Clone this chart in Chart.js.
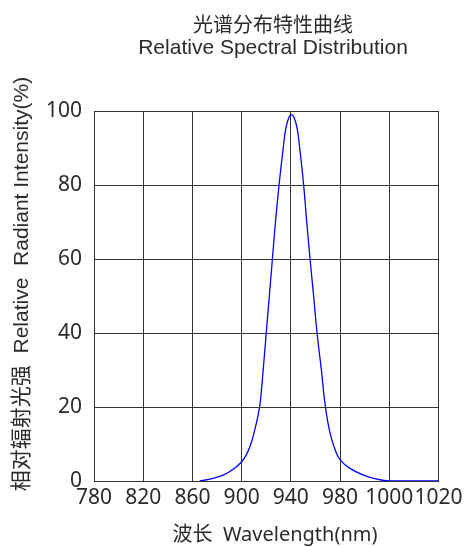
<html>
<head>
<meta charset="utf-8">
<script src="https://cdn.jsdelivr.net/npm/chart.js@4.4.1/dist/chart.umd.min.js"></script>
<style>
  body { margin: 0; background: #fff; }
  #wrap { width: 472px; height: 547px; }
</style>
</head>
<body>
<div id="wrap"><canvas id="chart"></canvas></div>
<script>
// values
var wavelength = [866, 875, 885, 894, 900, 904, 907.5, 910.5, 913, 915, 917.5, 920, 922.5, 925, 927.5, 930.4, 933.8, 936, 938.5, 940.5,
                  942.5, 945, 947.2, 950.4, 952.9, 955.6, 958.5, 961.3, 964.8, 967.5, 970, 973, 976.5, 980, 988, 999, 1010, 1020, 1060];
var intensity  = [0, 0.6, 1.6, 3.4, 5.2, 7.2, 10, 13.6, 17.2, 21, 30, 40, 50, 60, 70, 80, 90, 95.5, 98.3, 99,
                  98.3, 95.5, 90, 80, 70, 60, 50, 40, 30, 21.5, 16, 11.5, 8, 5.7, 3.4, 1.6, 0.5, 0, 0];
// tick labels as printed (grid is evenly spaced)
var xTickLabels = ['780', '820', '860', '900', '940', '980', '1000', '1020'];
var yTicks = [0, 20, 40, 60, 80, 100];

var titleLines = ['光谱分布特性曲线', 'Relative Spectral Distribution'];
var xTitle = '波长  Wavelength(nm)';
var yTitle = '相对辐射光强  Relative  Radiant Intensity(%)';

var points = [];
for (let i = 0; i < wavelength.length; i++) {
    points.push({x: wavelength[i], y: intensity[i]});
}

var textColor = '#2b2b2b';

const titlesPlugin = {
    id: 'titles',
    afterDraw(chart) {
        const ctx = chart.ctx;
        ctx.save();
        ctx.fillStyle = textColor;
        ctx.textAlign = 'center';
        ctx.textBaseline = 'middle';
        ctx.font = "20px 'Noto Sans CJK SC', sans-serif";
        ctx.fillText(titleLines[0], 273, 24);
        ctx.font = "21px 'Liberation Sans', sans-serif";
        ctx.fillText(titleLines[1], 273, 48);

        ctx.font = "20px 'Noto Sans', 'Noto Sans CJK SC', sans-serif";
        ctx.fillText(xTitle, 275, 535);

        ctx.translate(22, 284);
        ctx.rotate(-Math.PI / 2);
        ctx.font = "21px 'Liberation Sans', 'Noto Sans CJK SC', sans-serif";
        ctx.fillText(yTitle, 0, 0);
        ctx.restore();
    }
};

const chart = new Chart(document.getElementById('chart'), {
    type: 'line',
    data: {
        datasets: [{
            data: points,
            borderColor: '#0000ff',
            borderWidth: 1.3,
            pointRadius: 0,
            tension: 0.4,
            fill: false
        }]
    },
    options: {
        responsive: true,
        maintainAspectRatio: false,
        animation: false,
        layout: { padding: { top: 111, right: 33.5, left: 0, bottom: 0 } },
        plugins: { legend: { display: false }, tooltip: { enabled: false }, title: { display: false } },
        scales: {
            x: {
                type: 'linear',
                min: 780,
                max: 1060,
                afterFit: function (s) { s.height = 66; },
                grid: { color: '#333', lineWidth: 1, drawTicks: false },
                border: { color: '#333', width: 1 },
                ticks: {
                    stepSize: 40,
                    padding: 4,
                    color: textColor,
                    font: { family: "'Noto Sans', sans-serif", size: 21 },
                    maxRotation: 0,
                    autoSkip: false,
                    callback: function (v) { return xTickLabels[Math.round((v - 780) / 40)]; }
                }
            },
            y: {
                min: 0,
                max: 100,
                afterFit: function (s) { s.width = 94; },
                afterBuildTicks: function (s) { s.ticks = yTicks.map(v => ({value: v})); },
                grid: { color: '#333', lineWidth: 1, drawTicks: false },
                border: { color: '#333', width: 1 },
                ticks: {
                    padding: 12,
                    color: textColor,
                    font: { family: "'Noto Sans', sans-serif", size: 21 }
                }
            }
        }
    },
    plugins: [titlesPlugin]
});
</script>
</body>
</html>
